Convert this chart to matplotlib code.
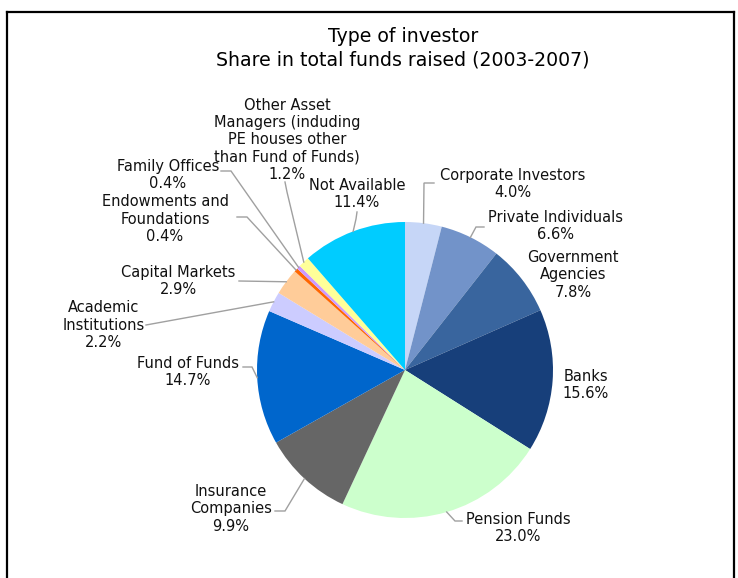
import numpy as np
import matplotlib
matplotlib.use("Agg")
import matplotlib.pyplot as plt
from matplotlib.lines import Line2D

W, H = 738, 578

categories = [
    "Corporate Investors", "Private Individuals", "Government\nAgencies", "Banks",
    "Pension Funds", "Insurance\nCompanies", "Fund of Funds", "Academic\nInstitutions",
    "Capital Markets", "Endowments and\nFoundations", "Family Offices",
    "Other Asset\nManagers (induding\nPE houses other\nthan Fund of Funds)", "Not Available",
]
shares = [4.0, 6.6, 7.8, 15.6, 23.0, 9.9, 14.7, 2.2, 2.9, 0.4, 0.4, 1.2, 11.4]
colors = ["#C6D6F7", "#7293C9", "#39659E", "#173F7A", "#CCFFCC", "#666666",
          "#0066CC", "#CCCCFF", "#FFCC99", "#FF6600", "#CC99FF", "#FFFF99", "#00CCFF"]

# label layout (pixel coordinates from top-left): text centre, leader points near text
label_pos = [(513, 184), (556, 226), (573, 275), (586, 385), (518, 528), (231, 509),
             (188, 372), (104, 325), (178, 281), (165, 219), (168, 175), (287, 140), (357, 194)]
leaders = [
    [(434, 183), (424, 183)],
    [(484, 227), (476, 227)],
    None,
    None,
    [(462, 521), (455, 521)],
    [(275, 511), (285, 511)],
    [(243, 367), (252, 367)],
    [(146, 325)],
    [(239, 281)],
    [(237, 217), (247, 217)],
    [(221, 171), (231, 171)],
    [(285, 182), (287, 192)],
    [(357, 212), (356, 219)],
]

cx, cy, R = 405, 370, 148

def fy(y):
    return H - y

fig = plt.figure(figsize=(W / 100, H / 100), dpi=100)
ax = fig.add_axes([0, 0, 1, 1])
wedges, _ = ax.pie(shares, colors=colors, startangle=90, counterclock=False,
                   center=(cx, fy(cy)), radius=R, frame=False,
                   wedgeprops=dict(linewidth=0))
ax.set_xlim(0, W)
ax.set_ylim(0, H)
ax.set_aspect("equal")
ax.axis("off")

font = "DejaVu Sans"
for w, cat, val, pos, ld in zip(wedges, categories, shares, label_pos, leaders):
    ax.text(pos[0], fy(pos[1]), f"{cat}\n{val:.1f}%", ha="center", va="center",
            fontsize=10.5, family=font, linespacing=1.2, color="#111111")
    if ld is not None:
        ang = np.deg2rad((w.theta1 + w.theta2) / 2)
        ax_pt = (cx + R * np.cos(ang), fy(cy) + R * np.sin(ang))
        xs = [p[0] for p in ld] + [ax_pt[0]]
        ys = [fy(p[1]) for p in ld] + [ax_pt[1]]
        ax.plot(xs, ys, color="#A0A0A0", lw=1.0, solid_joinstyle="miter")

ax.text(403, fy(36), "Type of investor", ha="center", va="center", fontsize=13.6, family=font)
ax.text(403, fy(60), "Share in total funds raised (2003-2007)", ha="center", va="center",
        fontsize=13.6, family=font)

# frame
for (x0, y0, x1, y1) in [(7, 12, 734, 12), (7, 12, 7, 578), (734, 12, 734, 578)]:
    fig.add_artist(Line2D([x0 / W, x1 / W], [1 - y0 / H, 1 - y1 / H], color="black", lw=1.6))

fig.savefig("out.png", dpi=100, facecolor="white")
